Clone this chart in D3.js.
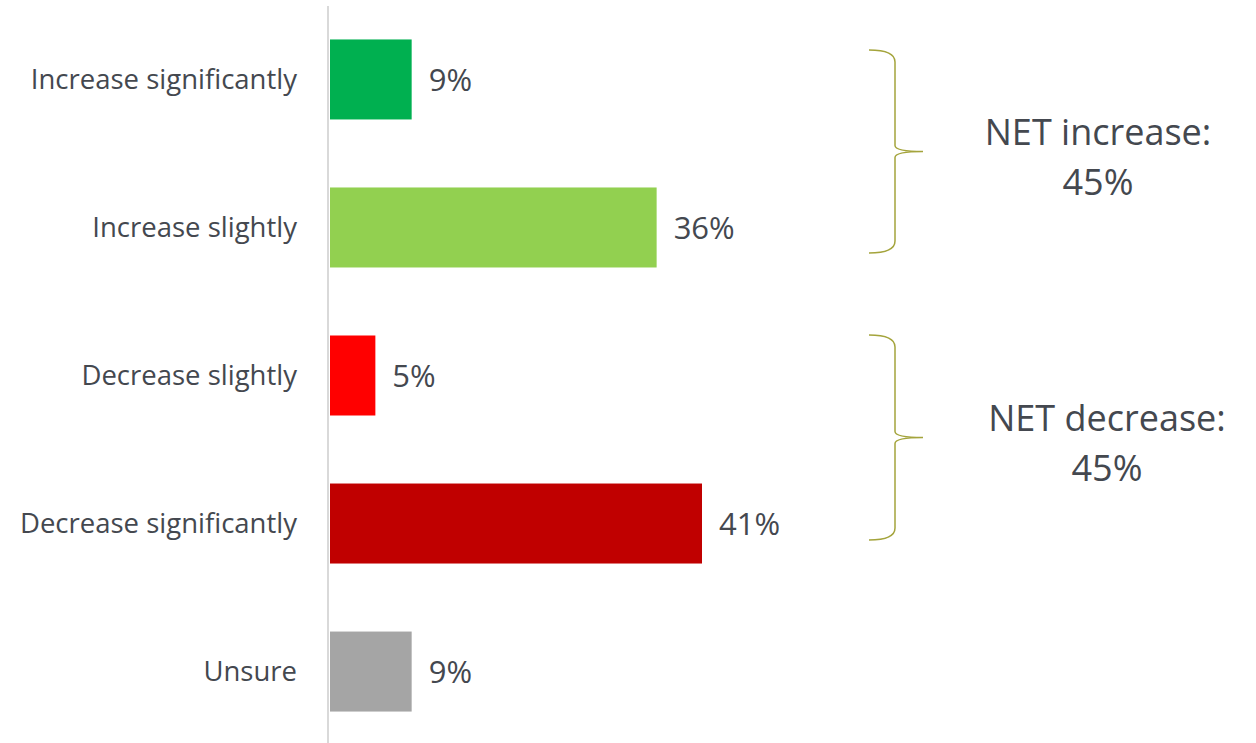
<!DOCTYPE html>
<html>
<head>
<meta charset="utf-8">
<script src="https://cdn.jsdelivr.net/npm/d3@7"></script>
<style>
  html, body { margin: 0; padding: 0; background: #ffffff; }
  svg { display: block; }
  text { font-family: "Open Sans", "Noto Sans", sans-serif; fill: #44484f; }
</style>
</head>
<body>
<svg id="chart" width="1256" height="743"></svg>
<script>
// Survey responses: expected change
const categories = ["Increase significantly", "Increase slightly", "Decrease slightly", "Decrease significantly", "Unsure"];
const values = [9, 36, 5, 41, 9];
const colors = ["#00b050", "#92d050", "#ff0000", "#c00000", "#a5a5a5"];

// Net groups shown with braces on the right (reported net figures)
const groupNames = ["NET increase:", "NET decrease:"];
const groupNets = [45, 45];

// Brace extents and label centres (pixels)
const braceSpans = [[50, 253], [335, 540]];
const noteCentres = [1098, 1107];

const svg = d3.select("#chart");

const x = d3.scaleLinear().domain([0, 41]).range([330, 702]);
const y = d3.scaleBand()
  .domain(categories)
  .range([6, 745])
  .paddingInner(0.4595)
  .paddingOuter(0.226);

// Vertical category axis line
svg.append("line")
  .attr("x1", 328).attr("x2", 328)
  .attr("y1", 6).attr("y2", 743)
  .attr("stroke", "#d9d9d9")
  .attr("stroke-width", 2);

// Bars
svg.selectAll("rect.bar")
  .data(values)
  .join("rect")
  .attr("class", "bar")
  .attr("x", x(0))
  .attr("y", (d, i) => y(categories[i]))
  .attr("width", d => x(d) - x(0))
  .attr("height", y.bandwidth())
  .attr("fill", (d, i) => colors[i]);

// Category labels
svg.selectAll("text.cat")
  .data(categories)
  .join("text")
  .attr("class", "cat")
  .attr("x", 297)
  .attr("y", d => y(d) + y.bandwidth() / 2)
  .attr("dy", "0.36em")
  .attr("text-anchor", "end")
  .attr("font-size", 27.5)
  .text(d => d);

// Value labels
svg.selectAll("text.val")
  .data(values)
  .join("text")
  .attr("class", "val")
  .attr("x", d => x(d) + 17)
  .attr("y", (d, i) => y(categories[i]) + y.bandwidth() / 2)
  .attr("dy", "0.36em")
  .attr("font-size", 31)
  .text(d => d + "%");

// Curly brace path: from (x0, top) to (x0, bottom), tip pointing right at mid
function bracePath(x0, top, bottom, tipX) {
  const xv = x0 + 26;
  const mid = (top + bottom) / 2;
  const r = 6;
  return [
    `M${x0},${top}`,
    `Q${xv},${top} ${xv},${top + r * 2}`,
    `L${xv},${mid - r}`,
    `Q${xv},${mid} ${tipX},${mid}`,
    `Q${xv},${mid} ${xv},${mid + r}`,
    `L${xv},${bottom - r * 2}`,
    `Q${xv},${bottom} ${x0},${bottom}`
  ].join(" ");
}

braceSpans.forEach(([top, bottom], g) => {
  svg.append("path")
    .attr("d", bracePath(869, top, bottom, 923))
    .attr("fill", "none")
    .attr("stroke", "#a4a43c")
    .attr("stroke-width", 1.5);

  const mid = (top + bottom) / 2;
  const cx = noteCentres[g];
  const t = svg.append("text")
    .attr("x", cx)
    .attr("y", mid - 7)
    .attr("text-anchor", "middle")
    .attr("font-size", 36);
  t.append("tspan").attr("x", cx).text(groupNames[g]);
  t.append("tspan").attr("x", cx).attr("dy", 50).text(groupNets[g] + "%");
});
</script>
</body>
</html>
